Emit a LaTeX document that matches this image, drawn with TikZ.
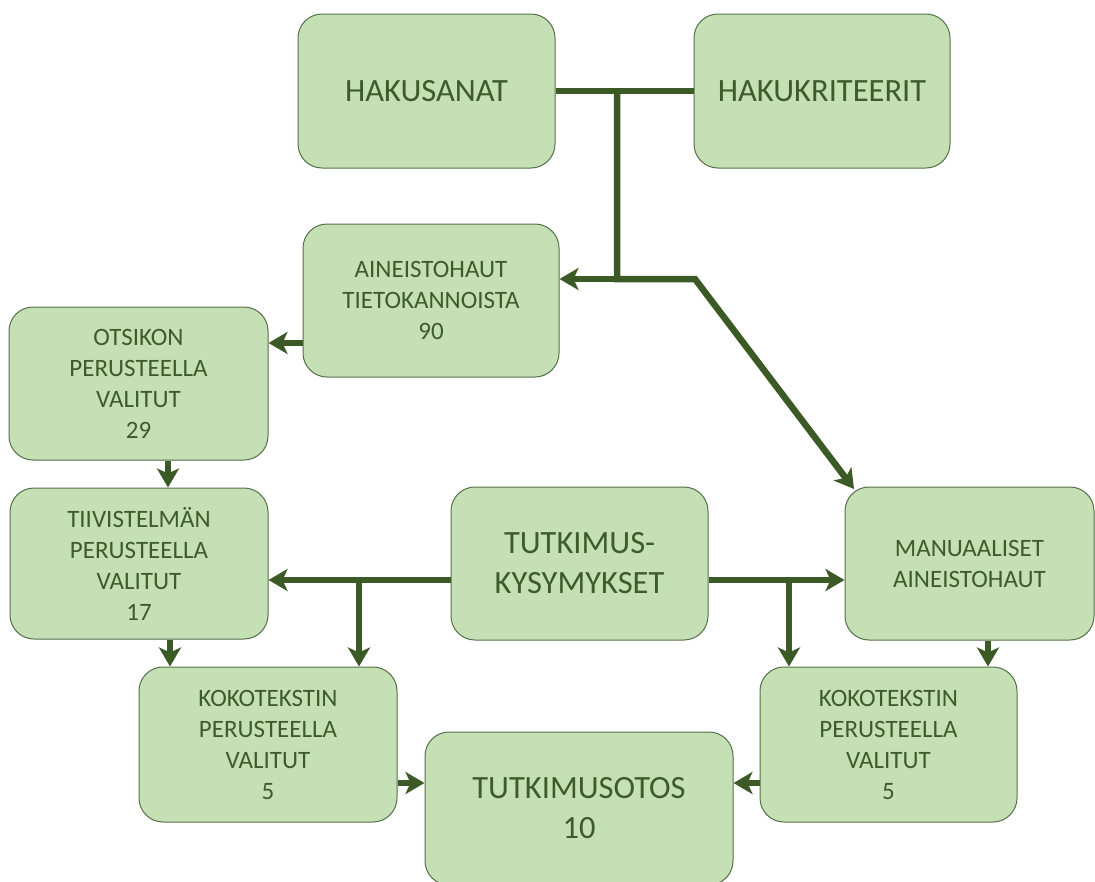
\documentclass[tikz,border=0pt]{standalone}
\usepackage{fontspec}
\setmainfont{Carlito}
\usetikzlibrary{arrows.meta}
\definecolor{boxfill}{HTML}{C5E0B4}
\definecolor{boxline}{HTML}{55704A}
\definecolor{conn}{HTML}{3B5A25}
\definecolor{txt}{HTML}{3D5C2C}
\begin{document}
\begin{tikzpicture}[x=1pt,y=-1pt,
  box/.style={draw=boxline, line width=1pt, fill=boxfill, rounded corners=24pt, text=txt, align=center, inner sep=0pt},
  big/.style={font=\fontsize{32.5}{40}\selectfont},
  small/.style={font=\fontsize{25}{31}\selectfont},
  conline/.style={draw=conn, line width=6.5pt},
  arr/.style={conline, -{Stealth[length=19pt,width=22pt,inset=5pt]}}
]
\useasboundingbox (0,0) rectangle (1095,881);
\fill[white] (0,0) rectangle (1095,881);
% boxes
\node[box,big,minimum width=257pt,minimum height=154pt] (hs) at (426.5,91) {HAKUSANAT};
\node[box,big,minimum width=256pt,minimum height=154pt] (hk) at (822,91) {HAKUKRITEERIT};
\node[box,small,minimum width=256pt,minimum height=153pt] (ai) at (431,300.5) {AINEISTOHAUT\\TIETOKANNOISTA\\90};
\node[box,small,minimum width=259pt,minimum height=153pt] (ot) at (138.5,383.5) {OTSIKON\\PERUSTEELLA\\VALITUT\\29};
\node[box,small,minimum width=258pt,minimum height=151pt] (ti) at (139,563.5) {TIIVISTELMÄN\\PERUSTEELLA\\VALITUT\\17};
\node[box,big,minimum width=257pt,minimum height=153pt] (tk) at (579.5,563.5) {TUTKIMUS-\\KYSYMYKSET};
\node[box,small,minimum width=249pt,minimum height=153pt] (ma) at (969.5,563.5) {MANUAALISET\\AINEISTOHAUT};
\node[box,small,minimum width=258pt,minimum height=155pt] (kl) at (268,744.5) {KOKOTEKSTIN\\PERUSTEELLA\\VALITUT\\5};
\node[box,small,minimum width=257pt,minimum height=155pt] (kr) at (888.5,744.5) {KOKOTEKSTIN\\PERUSTEELLA\\VALITUT\\5};
\node[box,big,minimum width=308pt,minimum height=153pt] (to) at (579,808.5) {TUTKIMUSOTOS\\10};
% connector coordinates
\coordinate (j1) at (617,91);
\coordinate (j2) at (617,279);
\coordinate (j3) at (695,279);
\coordinate (maTL) at (854,489);
\coordinate (lj) at (359,580);
\coordinate (rj) at (789,580);
% connectors
\draw[conline] (hs.east |- j1) -- (hk.west |- j1);
\draw[arr, line join=miter] (j1) -- (j2) -- (j3) -- (maTL);
\draw[arr] (j2) -- (ai.east |- j2);
\draw[arr] (ai.west |- 0,343) -- (ot.east |- 0,343);
\draw[arr] (ot.south -| 168,0) -- (ti.north -| 168,0);
\draw[arr] (tk.west |- lj) -- (ti.east |- lj);
\draw[arr] (lj) -- (kl.north -| lj);
\draw[arr] (tk.east |- rj) -- (ma.west |- rj);
\draw[arr] (rj) -- (kr.north -| rj);
\draw[arr] (ti.south -| 170,0) -- (kl.north -| 170,0);
\draw[arr] (ma.south -| 988,0) -- (kr.north -| 988,0);
\draw[arr] (kl.east |- 0,783) -- (to.west |- 0,783);
\draw[arr] (kr.west |- 0,783) -- (to.east |- 0,783);
\end{tikzpicture}
\end{document}
